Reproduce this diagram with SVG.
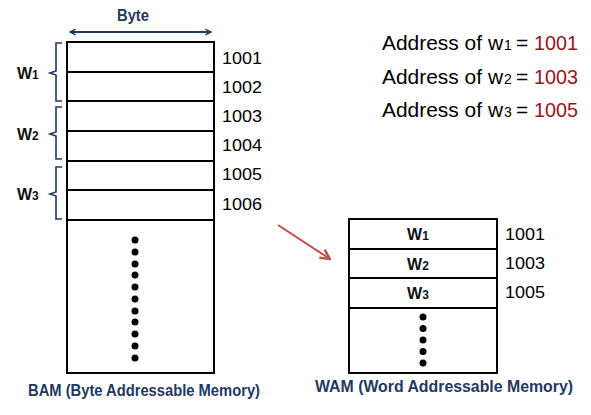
<svg xmlns="http://www.w3.org/2000/svg" width="591" height="415" viewBox="0 0 591 415">
<defs>
<style>
.box{fill:#fff;stroke:#000;stroke-width:2}
.ln{stroke:#000;stroke-width:2}
.addr{font-family:"Liberation Sans",Arial,sans-serif;font-size:17px;fill:#000}
.wl{font-family:"Liberation Sans",Arial,sans-serif;font-size:16px;font-weight:bold;fill:#111}
.sub{font-size:12px}
.cap{font-family:"Liberation Sans",Arial,sans-serif;font-size:16px;font-weight:bold;fill:#1f3864}
.big{font-family:"Liberation Sans",Arial,sans-serif;font-size:21px;fill:#000}
.bsub{font-family:"Liberation Sans",Arial,sans-serif;font-size:14px;fill:#000}
.red{fill:#a0111c}
.brace{fill:none;stroke:#1f3864;stroke-width:1.6}
.dot{fill:#000}
</style>
<marker id="bluehead" viewBox="0 0 10 10" refX="9" refY="5" markerWidth="7" markerHeight="7" orient="auto-start-reverse" markerUnits="userSpaceOnUse">
<path d="M1,1 L9,5 L1,9" fill="none" stroke="#1f3864" stroke-width="2"/>
</marker>
<marker id="redhead" viewBox="0 0 10 10" refX="9" refY="5" markerWidth="12" markerHeight="12" orient="auto" markerUnits="userSpaceOnUse">
<path d="M1,1 L9,5 L1,9" fill="none" stroke="#c0504d" stroke-width="2"/>
</marker>
</defs>
<rect width="591" height="415" fill="#fff"/>

<g id="byte-dim">
<line x1="70" y1="32" x2="211" y2="32" stroke="#1f3864" stroke-width="2" marker-start="url(#bluehead)" marker-end="url(#bluehead)"/>
<text x="133" y="21" text-anchor="middle" class="cap" font-size="14" textLength="32" lengthAdjust="spacingAndGlyphs">Byte</text>
</g>

<g id="bam">
<rect class="box" x="67" y="42" width="147" height="331"/>
<line class="ln" x1="67" y1="72" x2="214" y2="72"/>
<line class="ln" x1="67" y1="101" x2="214" y2="101"/>
<line class="ln" x1="67" y1="131" x2="214" y2="131"/>
<line class="ln" x1="67" y1="161" x2="214" y2="161"/>
<line class="ln" x1="67" y1="190" x2="214" y2="190"/>
<line class="ln" x1="67" y1="220" x2="214" y2="220"/>
<g class="dot">
<circle cx="135" cy="240" r="3.5"/><circle cx="135" cy="252" r="3.5"/><circle cx="135" cy="264" r="3.5"/><circle cx="135" cy="275" r="3.5"/><circle cx="135" cy="287" r="3.5"/><circle cx="135" cy="299" r="3.5"/><circle cx="135" cy="311" r="3.5"/><circle cx="135" cy="322" r="3.5"/><circle cx="135" cy="334" r="3.5"/><circle cx="135" cy="346" r="3.5"/><circle cx="135" cy="358" r="3.5"/>
</g>
<text class="addr" x="222" y="64" textLength="40" lengthAdjust="spacingAndGlyphs">1001</text>
<text class="addr" x="222" y="93" textLength="40" lengthAdjust="spacingAndGlyphs">1002</text>
<text class="addr" x="222" y="122" textLength="40" lengthAdjust="spacingAndGlyphs">1003</text>
<text class="addr" x="222" y="151" textLength="40" lengthAdjust="spacingAndGlyphs">1004</text>
<text class="addr" x="222" y="180" textLength="40" lengthAdjust="spacingAndGlyphs">1005</text>
<text class="addr" x="222" y="210" textLength="40" lengthAdjust="spacingAndGlyphs">1006</text>
<text class="cap" x="144" y="396" text-anchor="middle" textLength="232" lengthAdjust="spacingAndGlyphs">BAM (Byte Addressable Memory)</text>
</g>

<g id="w1-brace">
<path class="brace" d="M62,43 L56,43 L56,71 L50,73 L56,75 L56,101 L62,101"/>
<text class="wl" x="17" y="79">W<tspan class="sub">1</tspan></text>
</g>
<g id="w2-brace">
<path class="brace" d="M62,107 L56,107 L56,132 L50,134 L56,136 L56,159 L62,159"/>
<text class="wl" x="17" y="140">W<tspan class="sub">2</tspan></text>
</g>
<g id="w3-brace">
<path class="brace" d="M62,167 L56,167 L56,192 L50,194 L56,196 L56,219 L62,219"/>
<text class="wl" x="17" y="200">W<tspan class="sub">3</tspan></text>
</g>

<g id="wam">
<rect class="box" x="349" y="219" width="148" height="154"/>
<line class="ln" x1="349" y1="249" x2="497" y2="249"/>
<line class="ln" x1="349" y1="278" x2="497" y2="278"/>
<line class="ln" x1="349" y1="308" x2="497" y2="308"/>
<text class="wl" x="418" y="240" text-anchor="middle">W<tspan class="sub">1</tspan></text>
<text class="wl" x="418" y="270" text-anchor="middle">W<tspan class="sub">2</tspan></text>
<text class="wl" x="418" y="299" text-anchor="middle">W<tspan class="sub">3</tspan></text>
<g class="dot">
<circle cx="423" cy="317" r="3.5"/><circle cx="423" cy="328.5" r="3.5"/><circle cx="423" cy="340" r="3.5"/><circle cx="423" cy="351.5" r="3.5"/><circle cx="423" cy="363" r="3.5"/>
</g>
<text class="addr" x="505" y="240" textLength="40" lengthAdjust="spacingAndGlyphs">1001</text>
<text class="addr" x="505" y="269" textLength="40" lengthAdjust="spacingAndGlyphs">1003</text>
<text class="addr" x="505" y="298" textLength="40" lengthAdjust="spacingAndGlyphs">1005</text>
<text class="cap" x="444" y="392" text-anchor="middle" textLength="258" lengthAdjust="spacingAndGlyphs">WAM (Word Addressable Memory)</text>
</g>

<g id="connectors">
<line x1="278" y1="225" x2="330" y2="259" stroke="#c0504d" stroke-width="2" marker-end="url(#redhead)"/>
</g>

<g id="address-list">
<text class="big" x="382" y="50" textLength="121" lengthAdjust="spacingAndGlyphs">Address of w</text>
<text class="bsub" x="504" y="50">1</text>
<text class="big" x="516" y="50">=</text>
<text class="big red" x="534" y="50" textLength="44" lengthAdjust="spacingAndGlyphs">1001</text>
<text class="big" x="382" y="84" textLength="121" lengthAdjust="spacingAndGlyphs">Address of w</text>
<text class="bsub" x="504" y="84">2</text>
<text class="big" x="516" y="84">=</text>
<text class="big red" x="534" y="84" textLength="44" lengthAdjust="spacingAndGlyphs">1003</text>
<text class="big" x="382" y="117" textLength="121" lengthAdjust="spacingAndGlyphs">Address of w</text>
<text class="bsub" x="504" y="117">3</text>
<text class="big" x="516" y="117">=</text>
<text class="big red" x="534" y="117" textLength="44" lengthAdjust="spacingAndGlyphs">1005</text>
</g>
</svg>
